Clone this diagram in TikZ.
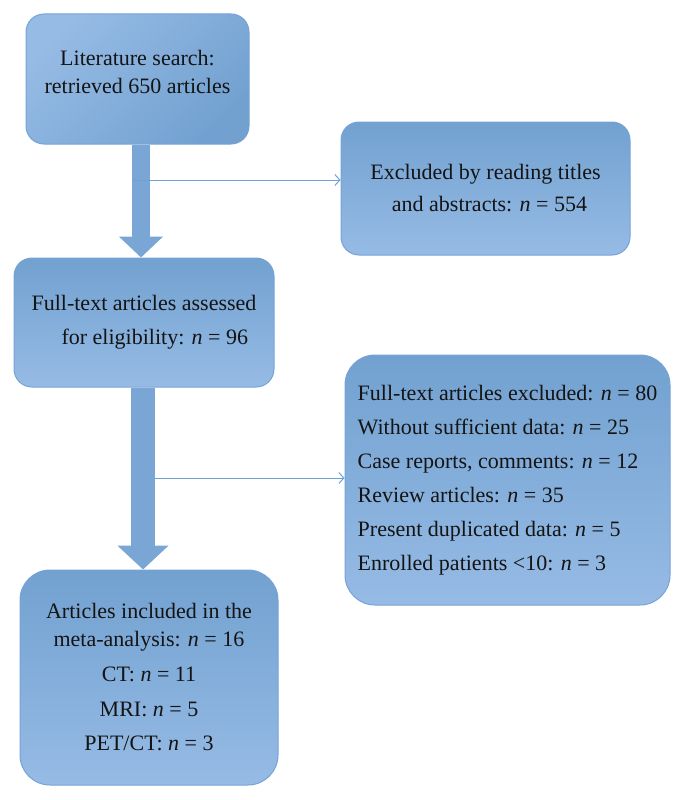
\documentclass[tikz,border=0pt]{standalone}
\usepackage{fontspec}
\setmainfont{Liberation Serif}
\usetikzlibrary{arrows.meta,positioning}
\definecolor{boxtop}{RGB}{114,161,208}
\definecolor{boxbot}{RGB}{150,187,229}
\definecolor{boxline}{RGB}{118,163,214}
\definecolor{shaftblue}{RGB}{122,166,214}
\definecolor{thinblue}{RGB}{112,160,214}
\definecolor{ink}{RGB}{20,20,20}

\begin{document}
\begin{tikzpicture}[x=1pt, y=-1pt,
    box/.style={draw=boxline, line width=1pt, top color=boxtop, bottom color=boxbot,
        rounded corners=18pt, align=center, inner sep=0pt, text=ink,
        font=\fontsize{22}{28}\selectfont},
    bigarrow/.style={draw=shaftblue},
    thinarrow/.style={draw=thinblue, line width=1pt, -{Straight Barb[length=5pt,width=11pt]}}]
    \useasboundingbox (0,0) rectangle (684,800);

    % boxes
    \node[box, top color=boxbot, bottom color=boxtop, shading angle=45, text depth=14pt,
        minimum width=223pt, minimum height=130pt] (search) at (137.5,79)
        {Literature search:\\retrieved 650 articles};
    \node[box, font=\fontsize{22}{32}\selectfont,
        minimum width=289pt, minimum height=133pt] (titles) at (485.5,188.5)
        {Excluded by reading titles\\\hspace*{8pt}and abstracts: \textit{n} = 554};
    \node[box, align=left, font=\fontsize{22}{34}\selectfont,
        minimum width=260pt, minimum height=129pt] (assessed) at (144,322.5)
        {Full-text articles assessed\\\hspace*{30pt}for eligibility: \textit{n} = 96};
    \node[box, align=left, rounded corners=30pt, font=\fontsize{22}{34}\selectfont,
        minimum width=325pt, minimum height=250pt] (excluded) at (507.5,480)
        {Full-text articles excluded: \textit{n} = 80\\
         Without sufficient data: \textit{n} = 25\\
         Case reports, comments: \textit{n} = 12\\
         Review articles: \textit{n} = 35\\
         Present duplicated data: \textit{n} = 5\\
         Enrolled patients <10: \textit{n} = 3};
    \node[box, rounded corners=30pt,
        minimum width=258pt, minimum height=215pt] (included) at (149,677.5)
        {Articles included in the\\meta-analysis: \textit{n} = 16\\[7pt]
         CT: \textit{n} = 11\\[7pt]
         MRI: \textit{n} = 5\\[6pt]
         PET/CT: \textit{n} = 3};

    % main flow
    \coordinate (ax1) at (141,0);
    \coordinate (ax2) at (143,0);
    \draw[bigarrow, line width=18pt, -{Triangle[width=43pt,length=21pt]}]
        (search.south -| ax1) -- (assessed.north -| ax1);
    \draw[bigarrow, line width=24pt, -{Triangle[width=50pt,length=24pt]}]
        (assessed.south -| ax2) -- (included.north -| ax2);

    % exclusions
    \coordinate (j1) at (132,180);
    \coordinate (j2) at (155,478);
    \draw[thinarrow] (j1) -- (j1 -| titles.west);
    \draw[thinarrow] (j2) -- (j2 -| excluded.west);
\end{tikzpicture}
\end{document}
